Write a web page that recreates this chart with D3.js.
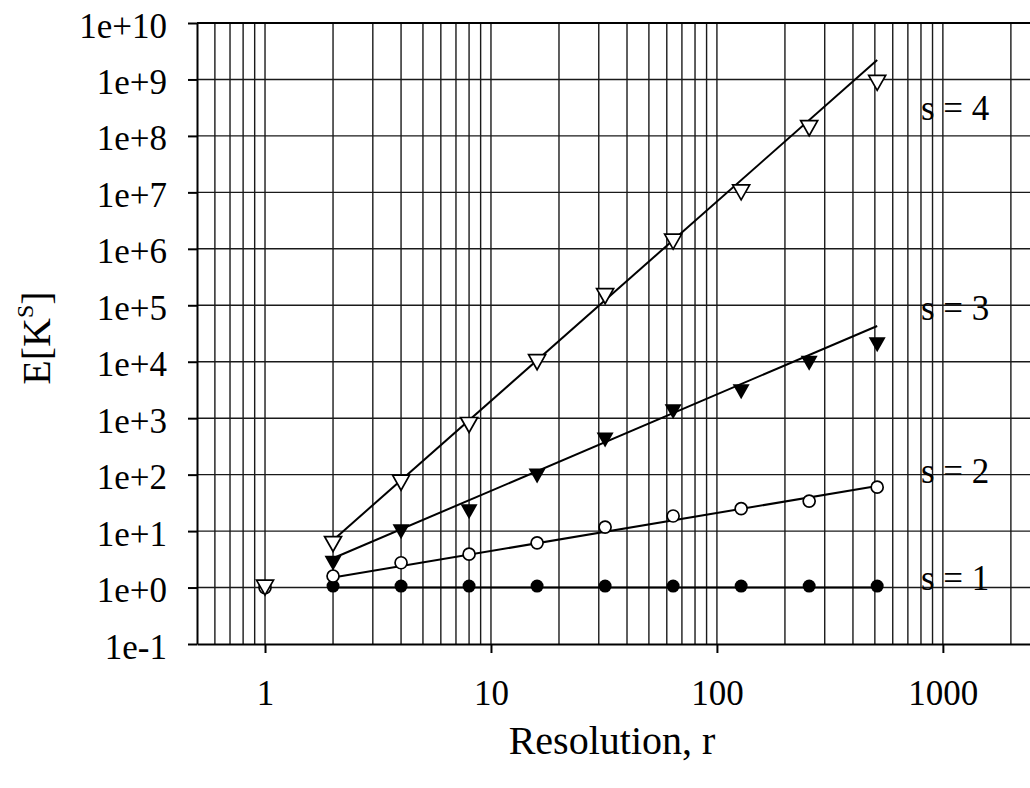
<!DOCTYPE html>
<html lang="en">
<head>
    <meta charset="UTF-8">
    <title>E[K^S] vs Resolution</title>
    <script src="https://d3js.org/d3.v7.min.js"></script>
    <style>
        html, body {
            margin: 0;
            padding: 0;
            background: #fff;
            overflow: hidden;
        }
        svg {
            display: block;
            font-family: "Liberation Serif", "Times New Roman", serif;
        }
        .grid line {
            stroke: #1a1a1a;
            stroke-width: 1.4;
        }
        .axis path, .axis line {
            stroke: #000;
            stroke-width: 2;
        }
        .axis text {
            fill: #000;
            font-size: 35px;
            font-family: "Liberation Serif", "Times New Roman", serif;
        }
        .fit {
            fill: none;
            stroke: #000;
            stroke-width: 2;
        }
        .label {
            font-size: 35px;
        }
    </style>
</head>
<body>
<svg width="1030" height="788"></svg>
<script>
    // resolutions
    const r = [1, 2, 4, 8, 16, 32, 64, 128, 256, 512];

    // measured E[K^s] per s (null = no marker)
    const s1 = [null, 1.06, 1.06, 1.06, 1.06, 1.06, 1.06, 1.06, 1.06, 1.06];
    const s2 = [1.0, 1.6, 2.75, 3.9, 6.2, 11.8, 18.5, 25, 34, 60];
    const s3 = [null, 2.7, 9.7, 22, 95, 410, 1300, 2950, 9400, 2.0e4];
    const s4 = [1.0, 5.9, 72, 757, 9800, 1.45e5, 1.34e6, 1.0e7, 1.37e8, 8.7e8];

    // fitted lines (value at r=2 and r=512)
    const fitR = [2, 512];
    const fit1 = [1, 1];
    const fit2 = [1.5, 63];
    const fit3 = [3.3, 4.3e4];
    const fit4 = [6.9, 2.2e9];

    const labels = ["s = 1", "s = 2", "s = 3", "s = 4"];
    const labelValues = [0.9, 71, 5.5e4, 1.9e8];

    const xTickValues = [1, 10, 100, 1000];
    const xTickLabels = ["1", "10", "100", "1000"];
    const yTickValues = [1e-1, 1e0, 1e1, 1e2, 1e3, 1e4, 1e5, 1e6, 1e7, 1e8, 1e9, 1e10];
    const yTickLabels = ["1e-1", "1e+0", "1e+1", "1e+2", "1e+3", "1e+4", "1e+5",
                         "1e+6", "1e+7", "1e+8", "1e+9", "1e+10"];

    const svg = d3.select("svg");
    const m = {left: 197, right: 1030, top: 23, bottom: 644};

    const x = d3.scaleLog().domain([0.5, 2430]).range([m.left, m.right]);
    const y = d3.scaleLog().domain([1e-1, 1e10]).range([m.bottom, m.top]);

    // grid
    const grid = svg.append("g").attr("class", "grid");
    grid.selectAll("line.v")
        .data(x.ticks().filter(d => d > 0.5))
        .enter().append("line")
        .attr("class", "v")
        .attr("x1", d => x(d)).attr("x2", d => x(d))
        .attr("y1", m.top).attr("y2", m.bottom);
    grid.selectAll("line.h")
        .data(yTickValues.slice(1, -1))
        .enter().append("line")
        .attr("class", "h")
        .attr("x1", m.left).attr("x2", m.right)
        .attr("y1", d => y(d)).attr("y2", d => y(d));

    // axes
    svg.append("g")
        .attr("class", "axis")
        .attr("transform", `translate(${m.left},0)`)
        .call(d3.axisLeft(y)
            .tickValues(yTickValues)
            .tickFormat((d, i) => yTickLabels[i])
            .tickSize(9)
            .tickSizeOuter(0)
            .tickPadding(21))
        .call(g => g.attr("font-family", null).attr("font-size", null))
        .call(g => g.selectAll("text").attr("dy", "0.4em"));

    svg.append("g")
        .attr("class", "axis")
        .attr("transform", `translate(0,${m.bottom})`)
        .call(d3.axisBottom(x)
            .tickValues(xTickValues)
            .tickFormat((d, i) => xTickLabels[i])
            .tickSize(9)
            .tickSizeOuter(0)
            .tickPadding(27))
        .call(g => g.attr("font-family", null).attr("font-size", null));

    // top border
    svg.append("line")
        .attr("x1", m.left).attr("x2", m.right)
        .attr("y1", m.top).attr("y2", m.top)
        .attr("stroke", "#000").attr("stroke-width", 2);

    // fit lines
    const line = d3.line()
        .x((d, i) => x(fitR[i]))
        .y(d => y(d));
    [fit1, fit2, fit3, fit4].forEach(f => {
        svg.append("path").attr("class", "fit").attr("d", line(f));
    });

    // down-pointing triangle marker
    function tri(cx, cy) {
        return `M${cx - 8.5},${cy - 7.5}L${cx + 8.5},${cy - 7.5}L${cx},${cy + 7.5}Z`;
    }

    const pts = (vals) => r.map((d, i) => ({r: d, v: vals[i]})).filter(d => d.v != null);

    // s = 1: filled circles
    svg.append("g").selectAll("circle")
        .data(pts(s1)).enter().append("circle")
        .attr("cx", d => x(d.r)).attr("cy", d => y(d.v))
        .attr("r", 6.5).attr("fill", "#000");

    // s = 2: open circles
    svg.append("g").selectAll("circle")
        .data(pts(s2)).enter().append("circle")
        .attr("cx", d => x(d.r)).attr("cy", d => y(d.v))
        .attr("r", 6).attr("fill", "#fff")
        .attr("stroke", "#000").attr("stroke-width", 1.7);

    // s = 3: filled down triangles
    svg.append("g").selectAll("path")
        .data(pts(s3)).enter().append("path")
        .attr("d", d => tri(x(d.r), y(d.v)))
        .attr("fill", "#000");

    // s = 4: open down triangles
    svg.append("g").selectAll("path")
        .data(pts(s4)).enter().append("path")
        .attr("d", d => tri(x(d.r), y(d.v)))
        .attr("fill", "#fff")
        .attr("stroke", "#000").attr("stroke-width", 1.7)
        .attr("stroke-linejoin", "miter");

    // series labels
    svg.append("g").selectAll("text")
        .data(labels).enter().append("text")
        .attr("class", "label")
        .attr("x", 921)
        .attr("y", (d, i) => y(labelValues[i]))
        .text(d => d);

    // axis titles
    svg.append("text")
        .attr("x", 612).attr("y", 754)
        .attr("text-anchor", "middle")
        .style("font-size", "40px")
        .text("Resolution, r");

    const yt = svg.append("text")
        .attr("transform", "translate(50,338) rotate(-90)")
        .attr("text-anchor", "middle")
        .style("font-size", "40px");
    yt.append("tspan").text("E[K");
    yt.append("tspan").attr("dy", -17).style("font-size", "24px").text("S");
    yt.append("tspan").attr("dy", 17).text("]");
</script>
</body>
</html>
